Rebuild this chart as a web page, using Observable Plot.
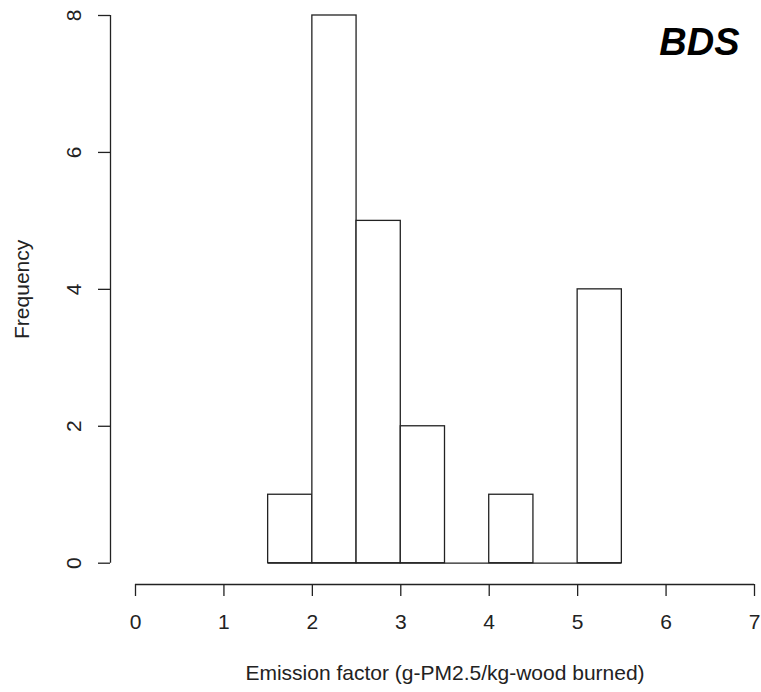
<!DOCTYPE html>
<html>
<head>
<meta charset="utf-8">
<script src="https://cdn.jsdelivr.net/npm/d3@7"></script>
<script src="https://cdn.jsdelivr.net/npm/@observablehq/plot@0.6"></script>
<style>
  html, body { margin: 0; padding: 0; background: #fff; }
  svg { display: block; }
</style>
</head>
<body>
<div id="chart"></div>
<script>
// Histogram bins (g-PM2.5/kg-wood burned)
const binStart = [1.5, 2.0, 2.5, 3.0, 3.5, 4.0, 4.5, 5.0];
const binEnd   = [2.0, 2.5, 3.0, 3.5, 4.0, 4.5, 5.0, 5.5];
const counts   = [1, 8, 5, 2, 0, 1, 0, 4];

const xTicks = [0, 1, 2, 3, 4, 5, 6, 7];
const yTicks = [0, 2, 4, 6, 8];

const title = "BDS";
const xLabel = "Emission factor (g-PM2.5/kg-wood burned)";
const yLabel = "Frequency";

const bins = binStart.map((s, i) => ({x1: s, x2: binEnd[i], count: counts[i]}));

const font = "'Liberation Sans', Arial, sans-serif";
const ink = "#222";

const chart = Plot.plot({
  width: 761,
  height: 692,
  marginLeft: 110,
  marginRight: 7,
  marginTop: 15,
  marginBottom: 108,
  insetLeft: 25,
  insetBottom: 21.3,
  style: {fontFamily: font, background: "#fff", color: ink},
  x: {domain: [d3.min(xTicks), d3.max(xTicks)]},
  y: {domain: [d3.min(yTicks), d3.max(yTicks)]},
  marks: [
    // axis lines spanning the first to last tick (R style)
    Plot.ruleY([0], {x1: d3.min(xTicks), x2: d3.max(xTicks), dy: 21.3, stroke: ink, strokeWidth: 1.3}),
    Plot.ruleX([0], {y1: d3.min(yTicks), y2: d3.max(yTicks), dx: -25, stroke: ink, strokeWidth: 1.3}),
    Plot.axisX({ticks: xTicks, tickFormat: d3.format("d"), tickSize: 12, tickPadding: 18, fontSize: 21, label: null, stroke: ink, strokeWidth: 1.3, fill: ink}),
    Plot.axisY({ticks: yTicks, tickFormat: d3.format("d"), tickSize: 12, tickPadding: 18, tickRotate: -90, fontSize: 21, label: null, stroke: ink, strokeWidth: 1.3, fill: ink}),
    // baseline under empty bins
    Plot.ruleY([0], {x1: d3.min(binStart), x2: d3.max(binEnd), stroke: ink, strokeWidth: 1.3}),
    Plot.rectY(bins, {x1: "x1", x2: "x2", y: "count", fill: "#fff", stroke: ink, strokeWidth: 1.3}),
    // axis titles
    Plot.text([xLabel], {x: (d3.min(xTicks) + d3.max(xTicks)) / 2, frameAnchor: "bottom", dy: 89, textAnchor: "middle", lineAnchor: "middle", fontSize: 21, fill: ink}),
    Plot.text([yLabel], {y: (d3.min(yTicks) + d3.max(yTicks)) / 2, frameAnchor: "left", rotate: -90, dx: -88, textAnchor: "middle", lineAnchor: "middle", fontSize: 21, fill: ink}),
    // panel label
    Plot.text([title], {frameAnchor: "top-right", textAnchor: "end", lineAnchor: "top", dx: -15, dy: 13, fontSize: 38, fontWeight: "bold", fontStyle: "italic", fill: "#000"})
  ]
});

document.getElementById("chart").appendChild(chart);
</script>
</body>
</html>
